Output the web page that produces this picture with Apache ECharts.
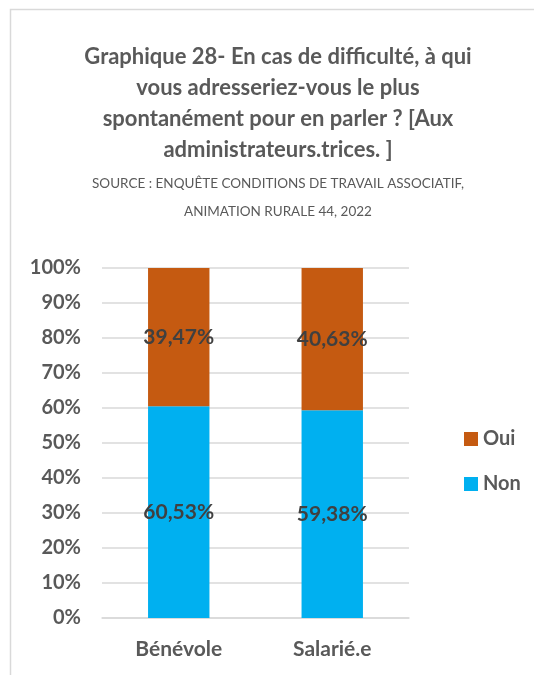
<!DOCTYPE html>
<html>
<head>
<meta charset="utf-8">
<script src="https://cdn.jsdelivr.net/npm/echarts@6/dist/echarts.min.js"></script>
<style>
  html, body { margin: 0; padding: 0; background: #fff; }
  #chart { width: 534px; height: 675px; }
</style>
</head>
<body>
<div id="chart"></div>
<script>
const categories = ["Bénévole", "Salarié.e"]
const nonValues = [60.53, 59.38]
const ouiValues = [39.47, 40.63]
const yTicks = [0, 10, 20, 30, 40, 50, 60, 70, 80, 90, 100]

const font = "Lato"
const grey = "#595959"

const chart = echarts.init(document.getElementById("chart"))

const pct = v => v.toFixed(2).replace(".", ",") + "%"

const option = {
  backgroundColor: "#fff",
  textStyle: { fontFamily: font },
  animation: false,
  graphic: [
    {
      type: "rect",
      shape: { x: 10.5, y: 9.5, width: 600, height: 700 },
      style: { fill: "none", stroke: "#d9d9d9", lineWidth: 1.5 }
    }
  ],
  title: {
    text: "Graphique 28- En cas de difficulté, à qui\nvous adresseriez-vous le plus\nspontanément pour en parler ? [Aux\nadministrateurs.trices. ]",
    subtext: "SOURCE : ENQUÊTE CONDITIONS DE TRAVAIL ASSOCIATIF,\nANIMATION RURALE 44, 2022",
    left: 273,
    textAlign: "center",
    top: 36,
    itemGap: 5,
    textStyle: { fontFamily: font, fontWeight: "bold", fontSize: 22, color: grey, lineHeight: 31 },
    subtextStyle: { fontFamily: font, fontSize: 13.5, color: grey, lineHeight: 28 }
  },
  legend: {
    orient: "vertical",
    left: 459,
    top: 424,
    itemWidth: 14,
    itemHeight: 14,
    itemGap: 25,
    icon: "rect",
    data: ["Oui", "Non"],
    textStyle: { fontFamily: font, fontWeight: "bold", fontSize: 20, color: grey }
  },
  grid: { left: 102, right: 125, top: 268, bottom: 57 },
  xAxis: {
    type: "category",
    data: categories,
    axisLine: { lineStyle: { color: "#d9d9d9", width: 1.5 } },
    axisTick: { show: false },
    axisLabel: { fontFamily: font, fontWeight: "bold", fontSize: 21, color: grey, margin: 21 }
  },
  yAxis: {
    type: "value",
    min: yTicks[0],
    max: yTicks[yTicks.length - 1],
    interval: yTicks[1] - yTicks[0],
    axisLine: { show: false },
    axisTick: { show: false },
    splitLine: { lineStyle: { color: "#d9d9d9", width: 1.5 } },
    axisLabel: { formatter: "{value}%", fontFamily: font, fontWeight: "bold", fontSize: 20, color: grey, margin: 21 }
  },
  series: [
    {
      name: "Non",
      type: "bar",
      stack: "total",
      barWidth: "40%",
      data: nonValues,
      itemStyle: { color: "#00B0F0" },
      label: {
        show: true,
        position: "inside",
        formatter: p => pct(p.value),
        fontFamily: font,
        fontWeight: "bold",
        fontSize: 21,
        color: "#404040"
      }
    },
    {
      name: "Oui",
      type: "bar",
      stack: "total",
      barWidth: "40%",
      data: ouiValues,
      itemStyle: { color: "#C55A11" },
      label: {
        show: true,
        position: "inside",
        formatter: p => pct(p.value),
        fontFamily: font,
        fontWeight: "bold",
        fontSize: 21,
        color: "#404040"
      }
    }
  ]
}

chart.setOption(option)
</script>
</body>
</html>
